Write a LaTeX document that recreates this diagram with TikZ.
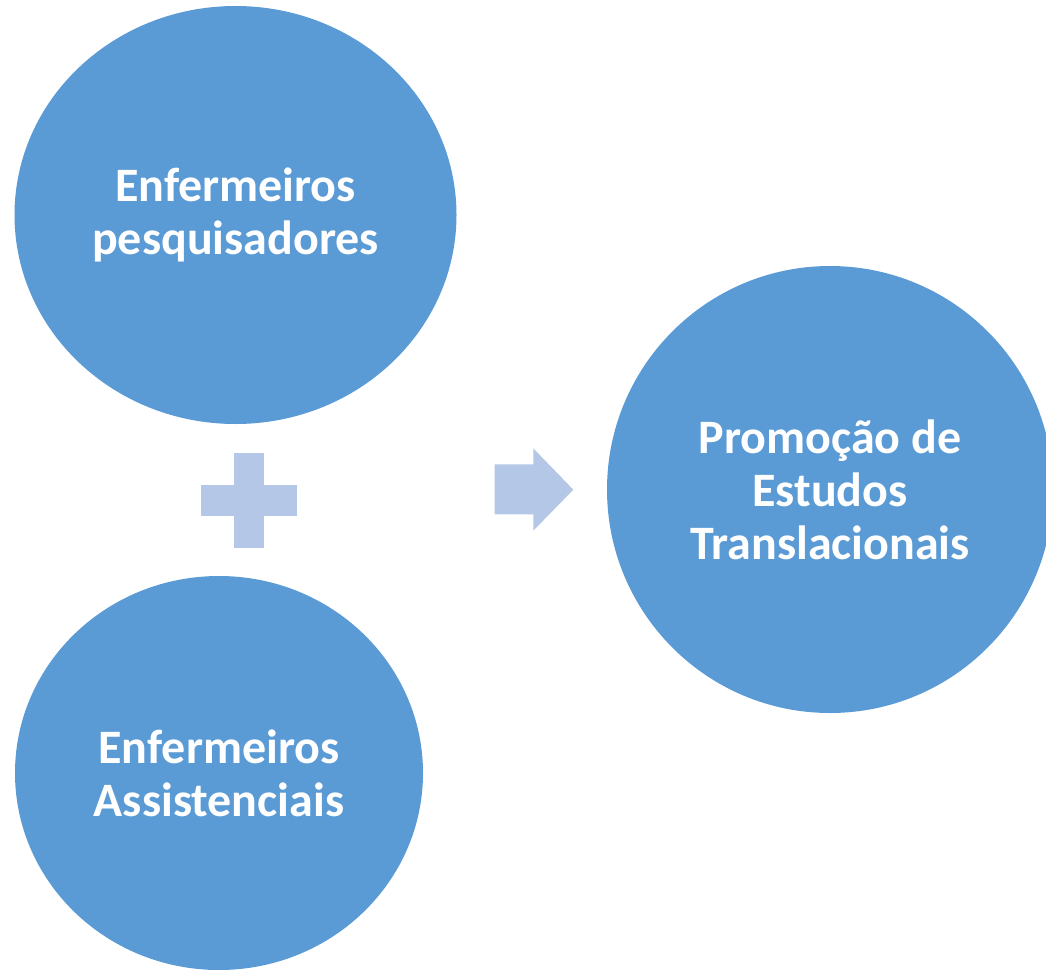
\documentclass[tikz,border=0pt]{standalone}
\usepackage{fontspec}
\setmainfont{Carlito}
\usetikzlibrary{shapes.geometric}

\definecolor{bubbleblue}{HTML}{5B9BD5}
\definecolor{signblue}{HTML}{B4C7E7}

\begin{document}
\begin{tikzpicture}[x=1pt, y=-1pt,
    bubble/.style={ellipse, fill=bubbleblue, inner sep=0pt, text=white, align=center,
        font=\fontsize{48}{53}\selectfont\bfseries},
    sign/.style={fill=signblue}]
    \clip (0,0) rectangle (1046,969);

    \node (pesq)   [bubble, minimum width=442pt, minimum height=418pt] at (235.5,215) {Enfermeiros\\pesquisadores};
    \node (assist) [bubble, minimum width=408pt, minimum height=394pt] at (219,773)   {Enfermeiros\\Assistenciais};
    \node (promo)  [bubble, minimum width=446pt, minimum height=447pt] at (830,489.5) {Promoção de\\Estudos\\Translacionais};

    \coordinate (plus)  at (249,500.3);
    \coordinate (arrow) at (494.7,489.7);

    % plus sign
    \fill[sign, shift={(plus)}] (-15.3,-47.6) rectangle (15.3,47.6);
    \fill[sign, shift={(plus)}] (-48,-15.3) rectangle (48,15.3);

    % arrow
    \fill[sign, shift={(arrow)}] (0,-25.4) -- (38.6,-25.4) -- (38.6,-41.4) -- (78.6,0)
        -- (38.6,41) -- (38.6,24.6) -- (0,24.6) -- cycle;
\end{tikzpicture}
\end{document}
